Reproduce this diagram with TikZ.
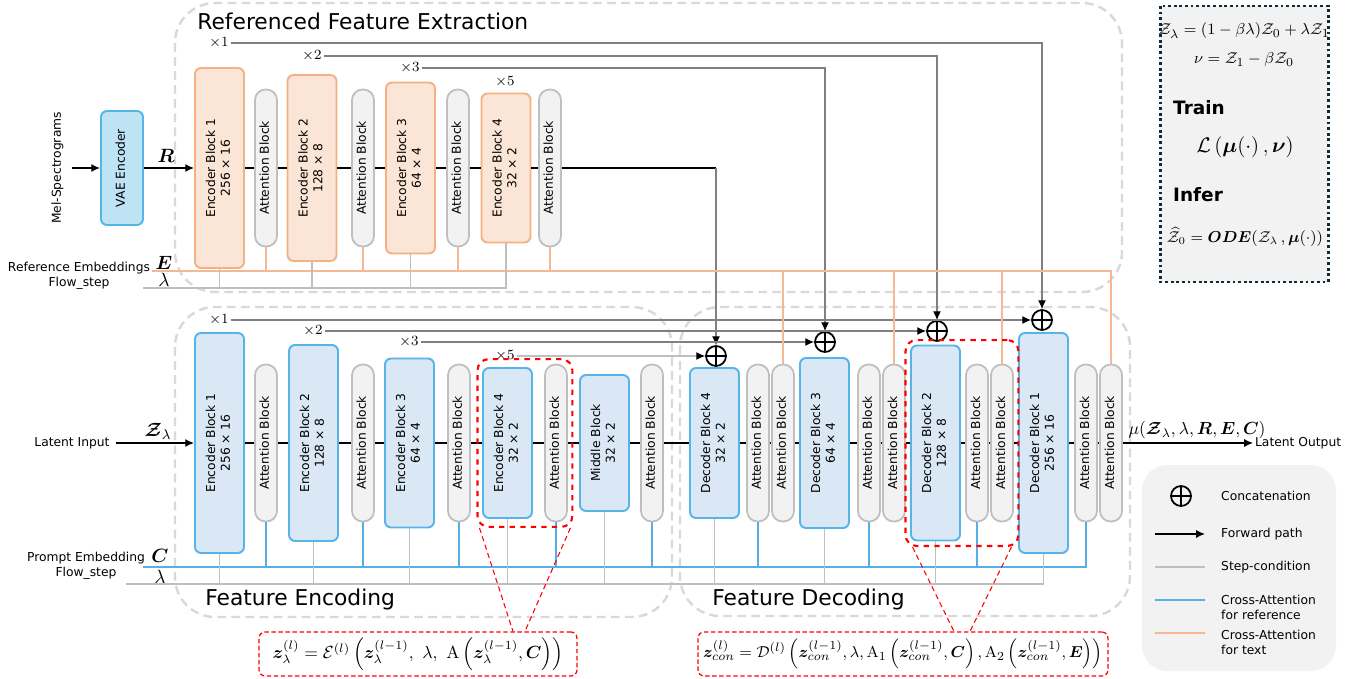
\documentclass[tikz,border=0pt]{standalone}
\usepackage[no-math]{fontspec}
\setmainfont{DejaVu Sans}
\usepackage{amsmath, amssymb, bm}
\usetikzlibrary{arrows.meta, calc, positioning, fit}
\definecolor{reffill}{HTML}{FBE5D6}
\definecolor{refdraw}{HTML}{F4B183}
\definecolor{latfill}{HTML}{DAE8F5}
\definecolor{latdraw}{HTML}{56B4E9}
\definecolor{vaefill}{HTML}{BDE3F5}
\definecolor{attfill}{HTML}{F2F2F2}
\definecolor{attdraw}{HTML}{BFBFBF}
\definecolor{refline}{HTML}{F5B895}
\definecolor{ctxline}{HTML}{56B0E6}
\definecolor{stepgray}{HTML}{BFBFBF}
\definecolor{skipgray}{HTML}{808080}
\definecolor{groupgray}{HTML}{D9D9D9}
\definecolor{navy}{HTML}{0E2A3B}
\definecolor{panelgray}{HTML}{F2F2F2}
\definecolor{zoomred}{HTML}{FF0000}
\newcommand{\rottext}[1]{\rotatebox{90}{\begin{tabular}{@{}c@{}}#1\end{tabular}}}

\begin{document}
\begin{tikzpicture}[x=0.02cm, y=-0.02cm, font=\fontsize{7}{8.5}\selectfont,
    encref/.style={draw=refdraw, fill=reffill, line width=1.1pt, rounded corners=0.12cm, minimum width=0.98cm, inner sep=0pt},
    enclat/.style={draw=latdraw, fill=latfill, line width=1.1pt, rounded corners=0.12cm, minimum width=0.98cm, inner sep=0pt},
    attn/.style={draw=attdraw, fill=attfill, line width=1pt, rounded corners=0.21cm, minimum width=0.44cm, minimum height=3.14cm, inner sep=0pt},
    concat/.style={circle, draw, line width=1pt, minimum size=0.4cm, inner sep=0pt,
        path picture={\draw[line width=1pt] (path picture bounding box.north) -- (path picture bounding box.south)
            (path picture bounding box.west) -- (path picture bounding box.east);}},
    mult/.style={font=\fontsize{8}{9}\selectfont, inner sep=1pt},
    title/.style={font=\fontsize{12.4}{14}\selectfont, anchor=west, inner sep=0pt},
    mlabel/.style={font=\fontsize{11}{13}\selectfont, inner sep=0pt},
    fwd/.style={line width=0.7pt, black},
    skip/.style={line width=0.6pt, skipgray},
    refl/.style={line width=1pt, refline},
    ctxl/.style={line width=1pt, ctxline},
    stepl/.style={line width=1pt, stepgray},
    tip/.style={-{Latex[length=5pt, width=4.5pt, color=black]}},
    groupbox/.style={groupgray, line width=1.4pt, dash pattern=on 5pt off 3pt, rounded corners=0.8cm},
    zoombox/.style={draw=zoomred, line width=1.2pt, dashed, rounded corners=0.22cm, inner sep=0.09cm},
    zoomline/.style={zoomred, line width=0.6pt, dash pattern=on 3pt off 2pt},
    formula/.style={draw=zoomred, line width=0.7pt, dash pattern=on 2.5pt off 1.5pt, rounded corners=0.12cm, minimum height=0.88cm, inner sep=0pt}
]
    \useasboundingbox (0,0) rectangle (1362,679);

    % Group frames
    \draw[groupbox] (175,3) rectangle (1122,292);
    \draw[groupbox] (175,307) rectangle (672,617);
    \draw[groupbox] (680,307) rectangle (1130,616);
    \node[title] (titleref) at (197,21) {Referenced Feature Extraction};
    \node[title] (titleenc) at (205,599) {Feature Encoding};
    \node[title] (titledec) at (712,599) {Feature Decoding};

    % Reference branch
    \node (mel) at (58,168) {\rottext{Mel-Spectrograms}};
    \node[draw=latdraw, fill=vaefill, line width=1.1pt, rounded corners=0.12cm, minimum width=0.84cm, minimum height=2.28cm, inner sep=0pt] (vae) at (122,168) {\rottext{VAE Encoder}};
    \node[encref, minimum height=4.0cm] (r1) at (219.5,168) {\rottext{Encoder Block 1\\256 × 16}};
    \node[attn] (ra1) at (266,168) {\rottext{Attention Block}};
    \node[encref, minimum height=3.72cm] (r2) at (312,168) {\rottext{Encoder Block 2\\128 × 8}};
    \node[attn] (ra2) at (363,168) {\rottext{Attention Block}};
    \node[encref, minimum height=3.42cm] (r3) at (410.5,168) {\rottext{Encoder Block 3\\64 × 4}};
    \node[attn] (ra3) at (458,168) {\rottext{Attention Block}};
    \node[encref, minimum height=2.98cm] (r4) at (506,168) {\rottext{Encoder Block 4\\32 × 2}};
    \node[attn] (ra4) at (550,168) {\rottext{Attention Block}};

    \node[mult] (x1t) at (219,43) {$\times 1$};
    \node[mult] (x2t) at (312,56) {$\times 2$};
    \node[mult] (x3t) at (410,68) {$\times 3$};
    \node[mult] (x5t) at (505,82) {$\times 5$};

    % Latent branch
    \node (latin) at (72,443) {Latent Input};
    \node[enclat, minimum height=4.4cm] (e1) at (219.5,443) {\rottext{Encoder Block 1\\256 × 16}};
    \node[attn] (ea1) at (266,443) {\rottext{Attention Block}};
    \node[enclat, minimum height=3.92cm] (e2) at (313.5,443) {\rottext{Encoder Block 2\\128 × 8}};
    \node[attn] (ea2) at (363,443) {\rottext{Attention Block}};
    \node[enclat, minimum height=3.38cm] (e3) at (409.5,443) {\rottext{Encoder Block 3\\64 × 4}};
    \node[attn] (ea3) at (459,443) {\rottext{Attention Block}};
    \node[enclat, minimum height=3.0cm] (e4) at (507.5,443) {\rottext{Encoder Block 4\\32 × 2}};
    \node[attn] (ea4) at (556,443) {\rottext{Attention Block}};
    \node[enclat, minimum height=2.72cm] (mid) at (604.5,443) {\rottext{Middle Block\\32 × 2}};
    \node[attn] (ma) at (652,443) {\rottext{Attention Block}};
    \node[enclat, minimum height=3.0cm] (d4) at (714.5,443) {\rottext{Decoder Block 4\\32 × 2}};
    \node[attn] (da4a) at (758,443) {\rottext{Attention Block}};
    \node[attn] (da4b) at (783,443) {\rottext{Attention Block}};
    \node[enclat, minimum height=3.4cm] (d3) at (824.5,443) {\rottext{Decoder Block 3\\64 × 4}};
    \node[attn] (da3a) at (869,443) {\rottext{Attention Block}};
    \node[attn] (da3b) at (894,443) {\rottext{Attention Block}};
    \node[enclat, minimum height=3.9cm] (d2) at (935.5,443) {\rottext{Decoder Block 2\\128 × 8}};
    \node[attn] (da2a) at (977,443) {\rottext{Attention Block}};
    \node[attn] (da2b) at (1002,443) {\rottext{Attention Block}};
    \node[enclat, minimum height=4.4cm] (d1) at (1043.5,443) {\rottext{Decoder Block 1\\256 × 16}};
    \node[attn] (da1a) at (1086,443) {\rottext{Attention Block}};
    \node[attn] (da1b) at (1111,443) {\rottext{Attention Block}};
    \node[anchor=west, inner sep=1pt] (latout) at (1253,443) {Latent Output};

    \node[mult] (x1b) at (219,320) {$\times 1$};
    \node[mult] (x2b) at (313,331) {$\times 2$};
    \node[mult] (x3b) at (409,342) {$\times 3$};
    \node[mult] (x5b) at (505,356) {$\times 5$};

    \node[concat] (cat1) at (1042,320) {};
    \node[concat] (cat2) at (937,331) {};
    \node[concat] (cat3) at (825,342) {};
    \node[concat] (cat4) at (716,356) {};

    % Condition labels
    \node[align=center] (refemb) at (79,276) {Reference Embeddings\\Flow\_step};
    \node[mlabel] (elab) at (164,263) {$\boldsymbol{E}$};
    \node[mlabel] (lamtlab) at (164,280) {$\lambda$};
    \node[align=center] (prompt) at (86,566) {Prompt Embedding\\Flow\_step};
    \node[mlabel] (clab) at (160,556) {$\boldsymbol{C}$};
    \node[mlabel] (lamblab) at (160,577) {$\lambda$};
    \node[mlabel] (rlab) at (166,156) {$\boldsymbol{R}$};
    \node[mlabel] (zlab) at (158,431) {$\boldsymbol{\mathcal{Z}}_{\lambda}$};
    \node[mlabel, font=\fontsize{10}{12}\selectfont] (mulab) at (1197,430) {$\mu(\boldsymbol{\mathcal{Z}}_{\lambda}, \lambda, \boldsymbol{R}, \boldsymbol{E}, \boldsymbol{C})$};

    \coordinate (eL) at (152,271);
    \coordinate (lamT) at (143,288);
    \coordinate (cL) at (143,567);
    \coordinate (lamB) at (126,584);
    \coordinate (turn4) at (716,168);

    % Forward path
    \draw[fwd, tip] (mel) -- (vae);
    \draw[fwd, tip] (vae) -- (r1);
    \foreach \a/\b in {r1/ra1, ra1/r2, r2/ra2, ra2/r3, r3/ra3, ra3/r4, r4/ra4}
        \draw[fwd] (\a) -- (\b);
    \draw[fwd] (ra4) -- (turn4);
    \draw[fwd, tip] (latin) -- (e1);
    \foreach \a/\b in {e1/ea1, ea1/e2, e2/ea2, ea2/e3, e3/ea3, ea3/e4, e4/ea4, ea4/mid, mid/ma, ma/d4,
        d4/da4a, da4a/da4b, da4b/d3, d3/da3a, da3a/da3b, da3b/d2, d2/da2a, da2a/da2b, da2b/d1, d1/da1a, da1a/da1b}
        \draw[fwd] (\a) -- (\b);
    \draw[fwd, tip] (da1b) -- (latout);

    % Skip connections
    \draw[skip, tip] (x1t) -| (cat1);
    \draw[skip, tip] (x2t) -| (cat2);
    \draw[skip, tip] (x3t) -| (cat3);
    \draw[skip, tip] (turn4) -- (cat4);
    \draw[skip, tip] (x1b) -- (cat1);
    \draw[skip, tip] (x2b) -- (cat2);
    \draw[skip, tip] (x3b) -- (cat3);
    \draw[skip, stepgray, tip] (x5b) -- (cat4);

    % Reference embeddings
    \draw[refl] (eL) -| (da1b);
    \foreach \n in {ra1, ra2, ra3, ra4}
        \draw[refl] (\n) -- (\n |- eL);
    \foreach \n in {da4b, da3b, da2b}
        \draw[refl] (\n |- eL) -- (\n);

    % Prompt embedding
    \draw[ctxl] (cL) -| (da1a);
    \foreach \n in {ea1, ea2, ea3, ea4, ma, da4a, da3a, da2a}
        \draw[ctxl] (\n) -- (\n |- cL);

    % Flow step
    \draw[stepl] (lamT) -| (r4);
    \foreach \n in {r1, r2, r3}
        \draw[stepl] (\n) -- (\n |- lamT);
    \draw[stepl] (lamB) -| (d1);
    \foreach \n in {e1, e2, e3, e4, mid, d4, d3, d2}
        \draw[stepl] (\n) -- (\n |- lamB);

    % Zoomed layers
    \node[zoombox, fit=(e4)(ea4)] (z1) {};
    \node[zoombox, fit=(d2)(da2a)(da2b)] (z2) {};
    \node[formula, minimum width=6.36cm] (f1) at (418,654)
        {\fontsize{10.4}{12}\selectfont $\boldsymbol{z}_\lambda^{(l)} = \mathcal{E}^{(l)}\left(\boldsymbol{z}_\lambda^{(l-1)},\ \lambda,\ \mathrm{A}\left(\boldsymbol{z}_\lambda^{(l-1)}, \boldsymbol{C}\right)\right)$};
    \node[formula, minimum width=8.2cm] (f2) at (903,654)
        {\fontsize{9.5}{12}\selectfont $\boldsymbol{z}_{con}^{(l)} = \mathcal{D}^{(l)}\left(\boldsymbol{z}_{con}^{(l-1)}, \lambda, \mathrm{A}_1\left(\boldsymbol{z}_{con}^{(l-1)}, \boldsymbol{C}\right), \mathrm{A}_2\left(\boldsymbol{z}_{con}^{(l-1)}, \boldsymbol{E}\right)\right)$};
    \draw[zoomline] ([xshift=0.06cm]z1.south west) -- ([xshift=1.9cm]f1.north);
    \draw[zoomline] ([xshift=-0.06cm]z1.south east) -- ([xshift=2.14cm]f1.north);
    \draw[zoomline] ([xshift=0.16cm]z2.south west) -- ([xshift=1.02cm]f2.north);
    \draw[zoomline] ([xshift=-0.16cm]z2.south east) -- ([xshift=1.34cm]f2.north);

    % Flow matching panel
    \draw[navy, fill=panelgray, line width=1.7pt, dash pattern=on 1.6pt off 1.6pt] (1160,6) rectangle (1328,282);
    \node[font=\fontsize{9.5}{11}\selectfont] (flow1) at (1244,31) {$\mathcal{Z}_\lambda = (1-\beta\lambda)\mathcal{Z}_0 + \lambda\mathcal{Z}_1$};
    \node[font=\fontsize{9.5}{11}\selectfont] (flow2) at (1244,60) {$\nu = \mathcal{Z}_1 - \beta\mathcal{Z}_0$};
    \node[anchor=west, font=\bfseries\fontsize{10.5}{12}\selectfont] (train) at (1167,108) {Train};
    \node[font=\fontsize{12}{14}\selectfont] (loss) at (1245,147) {$\mathcal{L}\left(\boldsymbol{\mu}(\cdot)\,, \boldsymbol{\nu}\right)$};
    \node[anchor=west, font=\bfseries\fontsize{10.5}{12}\selectfont] (infer) at (1167,195) {Infer};
    \node[font=\fontsize{8.8}{11}\selectfont] (ode) at (1245,237) {$\widehat{\mathcal{Z}}_0 = \boldsymbol{ODE}(\mathcal{Z}_\lambda\,, \boldsymbol{\mu}(\cdot))$};

    % Legend
    \fill[panelgray, rounded corners=0.5cm] (1142,465) rectangle (1336,671);
    \node[concat] (lcat) at (1181,496) {};
    \node[anchor=west] (lcattext) at (1215,496) {Concatenation};
    \node[anchor=west] (lfwdtext) at (1215,534) {Forward path};
    \node[anchor=west] (lsteptext) at (1215,567) {Step-condition};
    \node[anchor=west, align=left] (lctxtext) at (1215,607) {Cross-Attention\\for reference};
    \node[anchor=west, align=left] (lreftext) at (1215,642) {Cross-Attention\\for text};
    \coordinate (lf1) at (1155,534); \coordinate (lf2) at (1205,534);
    \coordinate (ls1) at (1155,567); \coordinate (ls2) at (1205,567);
    \coordinate (lc1) at (1155,600); \coordinate (lc2) at (1205,600);
    \coordinate (lr1) at (1155,633); \coordinate (lr2) at (1205,633);
    \draw[fwd, tip] (lf1) -- (lf2);
    \draw[stepl] (ls1) -- (ls2);
    \draw[ctxl] (lc1) -- (lc2);
    \draw[refl] (lr1) -- (lr2);
\end{tikzpicture}
\end{document}
